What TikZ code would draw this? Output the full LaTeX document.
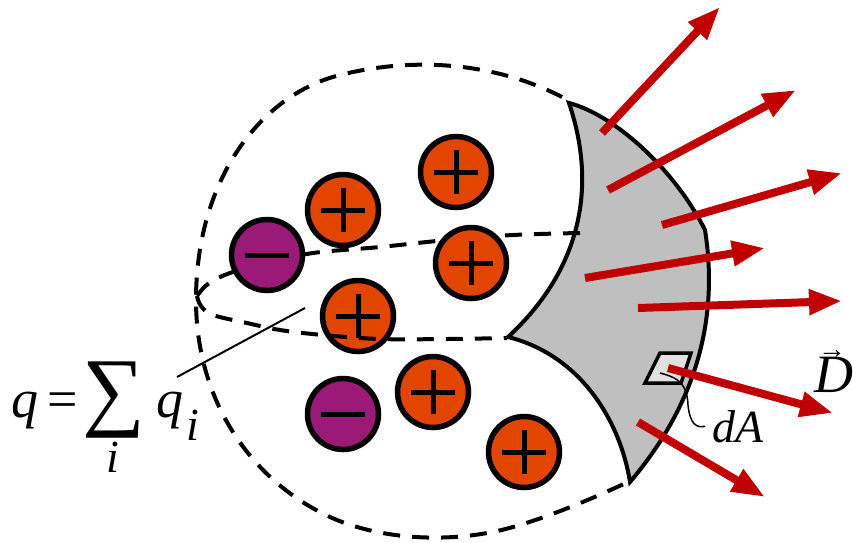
\documentclass[tikz,border=0pt]{standalone}
\usepackage{fontspec}
\setmainfont{Liberation Serif}
\usetikzlibrary{arrows.meta}
\definecolor{chargeorange}{HTML}{E24500}
\definecolor{chargepurple}{HTML}{9B1A78}
\definecolor{fluxred}{HTML}{C00000}
\definecolor{patchgray}{HTML}{BFBFBF}
\definecolor{elemgray}{HTML}{E0E0E0}
\tikzset{
    charge/.style={circle, draw, line width=5.5pt, minimum size=71pt, inner sep=0pt},
    poscharge/.style={charge, fill=chargeorange, path picture={
        \draw[line width=5pt] ([xshift=-22pt]path picture bounding box.center) -- ([xshift=22pt]path picture bounding box.center)
            ([yshift=-22pt]path picture bounding box.center) -- ([yshift=22pt]path picture bounding box.center);}},
    negcharge/.style={charge, fill=chargepurple, path picture={
        \draw[line width=5pt] ([xshift=-22pt]path picture bounding box.center) -- ([xshift=22pt]path picture bounding box.center);}},
    gausssurf/.style={dash pattern=on 17pt off 12pt, line width=4pt},
    fluxarrow/.style={fluxred, line width=8pt, -{Triangle[length=33pt,width=24pt]}},
    biglbl/.style={inner sep=0pt, font=\fontsize{54}{60}\selectfont\itshape},
    smalllbl/.style={inner sep=0pt, font=\fontsize{46}{50}\selectfont\itshape},
}
\begin{document}
\begin{tikzpicture}[x=1pt, y=-1pt]
        \useasboundingbox (0,0) rectangle (853,542);
        % patch of the surface
        \draw[line width=4pt, fill=patchgray, line join=miter]
            (569,103) .. controls (615,115) and (675,170) .. (705,230)
            .. controls (716,300) and (708,390) .. (630,482)
            .. controls (620,420) and (580,355) .. (508,337)
            .. controls (575,275) and (600,195) .. cycle;
        % gaussian surface
        \draw[gausssurf] (562,97) .. controls (500,65) and (420,55) .. (340,75)
            .. controls (260,95) and (196,180) .. (196,300)
            .. controls (196,400) and (250,480) .. (330,517)
            .. controls (378,539) and (450,545) .. (513,527)
            .. controls (555,515) and (600,495) .. (628,482);
        \draw[gausssurf] plot[smooth, tension=0.6] coordinates {(580,233) (513,235) (447,240) (380,247) (313,253)
            (267,263) (230,273) (208,284) (197,296)};
        % charges
        \foreach \nm/\kind/\px/\py in {neg1/negcharge/267/255, pos1/poscharge/343/210, pos2/poscharge/456/172,
            pos3/poscharge/471/263, pos4/poscharge/358/316, neg2/negcharge/343/414, pos5/poscharge/433/392,
            pos6/poscharge/524/452}
            \node[\kind] (\nm) at (\px,\py) {};
        \draw[gausssurf] plot[smooth, tension=0.6] coordinates {(197,296) (201,306) (213,315) (247,323) (280,330)
            (323,335) (380,339) (447,339) (507,338)};
        % area element
        \draw[line width=3.5pt, fill=elemgray, line join=miter] (660,353) -- (691,353) -- (681,383) -- (645,383) -- cycle;
        \coordinate (elem) at (660,373);
        % flux arrows
        \foreach \tx/\ty/\hx/\hy [count=\k] in {602/133/720/7, 608/190/796/90, 662/225/842/173, 585/278/765/248,
            638/308/842/301, 668/368/833/413, 638/422/765/497}
        {
            \coordinate (tail\k) at (\tx,\ty);
            \coordinate (tip\k) at (\hx,\hy);
            \draw[fluxarrow] (tail\k) -- (tip\k);
        }
        % labels
        \node[smalllbl, anchor=base west] (dalbl) at (712,442) {dA};
        \draw[line width=1.5pt] (elem) .. controls (680,378) and (687,385) .. (688,405)
            .. controls (690,425) and (697,428) .. ([xshift=-7pt]dalbl.west);
        \node[biglbl, anchor=base west] (dlbl) at (814,392)
            {\rlap{\hspace{4pt}\raisebox{34pt}{\fontsize{28}{28}\selectfont\upshape →}}D};
        \node[biglbl, anchor=base west] (qlhs) at (11,417) {q\,{\upshape=}};
        \node[inner sep=0pt, font=\fontsize{88}{88}\selectfont] (sumsign) at (114,400) {∑};
        \node[smalllbl, anchor=base] (sumidx) at (113,472) {i};
        \node[biglbl, anchor=base west] (qterm) at (156,417) {q};
        \node[smalllbl, anchor=base west] (qidx) at (186,440) {i};
        \coordinate (sumend) at (177,377);
        \draw[line width=2pt] (sumend) -- (305,308);
\end{tikzpicture}
\end{document}
